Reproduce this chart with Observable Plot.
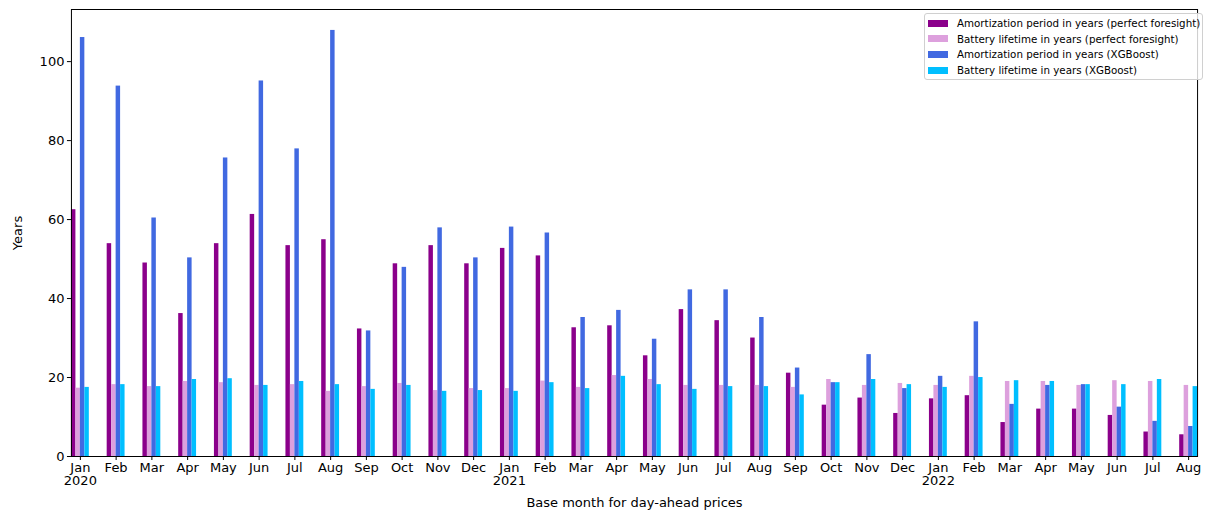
<!DOCTYPE html>
<html>
<head>
<meta charset="utf-8">
<script src="https://cdn.jsdelivr.net/npm/d3@7"></script>
<script src="https://cdn.jsdelivr.net/npm/@observablehq/plot@0.6"></script>
<style>
  html, body { margin: 0; padding: 0; background: #fff; }
  #wrap { position: relative; width: 1209px; height: 513px; font-family: "DejaVu Sans", sans-serif; }
  #legend { position: absolute; left: 924px; top: 13px; width: 279px; height: 67px; border: 1px solid #d0d0d0; border-radius: 3px; background: rgba(255,255,255,0.8); box-sizing: border-box; font-size: 10.3px; color: #000; }
  .item { position: absolute; left: 3px; height: 14px; line-height: 14px; white-space: nowrap; }
  .sw { display: inline-block; width: 20px; height: 7px; vertical-align: middle; margin-right: 9px; margin-top: -2px; }
</style>
</head>
<body>
<div id="wrap"><div id="legend"></div></div>
<script>
const periods = [
  "2020-01","2020-02","2020-03","2020-04","2020-05","2020-06","2020-07","2020-08","2020-09","2020-10","2020-11","2020-12",
  "2021-01","2021-02","2021-03","2021-04","2021-05","2021-06","2021-07","2021-08","2021-09","2021-10","2021-11","2021-12",
  "2022-01","2022-02","2022-03","2022-04","2022-05","2022-06","2022-07","2022-08"
];
const monthNames = ["Jan","Feb","Mar","Apr","May","Jun","Jul","Aug","Sep","Oct","Nov","Dec"];

const seriesNames = [
  "Amortization period in years (perfect foresight)",
  "Battery lifetime in years (perfect foresight)",
  "Amortization period in years (XGBoost)",
  "Battery lifetime in years (XGBoost)"
];
const seriesColors = ["#8B008B", "#DDA0DD", "#4169E1", "#00BFFF"];

const amortPF = [62.5,53.9,49.0,36.2,53.9,61.3,53.4,54.9,32.3,48.8,53.4,48.8,
                 52.7,50.8,32.6,33.1,25.5,37.2,34.4,30.0,21.1,13.0,14.8,10.9,
                 14.6,15.4,8.6,12.0,12.0,10.4,6.2,5.5];
const lifePF = [17.3,18.2,17.7,19.0,18.7,18.0,18.2,16.5,17.7,18.5,16.7,17.2,
                17.2,19.1,17.5,20.5,19.5,18.0,18.0,18.0,17.5,19.5,18.0,18.5,
                18.0,20.3,19.0,19.0,18.0,19.2,19.0,18.0];
const amortXGB = [106.1,93.8,60.4,50.3,75.6,95.1,77.9,107.9,31.8,47.9,57.9,50.3,
                  58.1,56.6,35.2,37.0,29.7,42.2,42.2,35.2,22.4,18.7,25.8,17.2,
                  20.3,34.1,13.2,18.0,18.2,12.5,8.9,7.6];
const lifeXGB = [17.5,18.2,17.7,19.5,19.7,18.0,19.0,18.2,17.0,18.0,16.5,16.7,
                 16.5,18.7,17.2,20.3,18.2,17.0,17.7,17.7,15.6,18.7,19.5,18.2,
                 17.5,20.0,19.2,19.0,18.2,18.2,19.5,17.7];
const yTicks = [0, 20, 40, 60, 80, 100];

const seriesValues = [amortPF, lifePF, amortXGB, lifeXGB];
const rows = [];
periods.forEach((p, i) => {
  seriesNames.forEach((s, k) => rows.push({period: p, series: s, value: seriesValues[k][i]}));
});

function fmtPeriod(p) {
  const [y, m] = p.split("-");
  const name = monthNames[+m - 1];
  return m === "01" ? name + "\n" + y : name;
}

const chart = Plot.plot({
  width: 1209,
  height: 513,
  marginLeft: 62,
  marginRight: 3,
  marginTop: 9,
  marginBottom: 57,
  style: {fontFamily: "DejaVu Sans, sans-serif", fontSize: "13px", color: "#000", background: "#fff"},
  fx: {domain: periods, paddingInner: 0.5, paddingOuter: 0.25, round: false, label: null},
  x: {domain: seriesNames, padding: 0, round: false, axis: null},
  y: {domain: [0, 113.2], label: null},
  color: {domain: seriesNames, range: seriesColors},
  marks: [
    Plot.barY(rows, {fx: "period", x: "series", y: "value", fill: "series", inset: 0}),
    Plot.axisFx({anchor: "bottom", tickSize: 4, tickPadding: 2, tickFormat: fmtPeriod, label: "Base month for day-ahead prices", labelAnchor: "center", labelOffset: 50, labelArrow: false, fontSize: 13}),
    Plot.axisY({ticks: yTicks, tickSize: 4, tickPadding: 3, label: "Years", labelAnchor: "center", labelOffset: 59, labelArrow: false, fontSize: 13}),
    Plot.frame({facet: "super", stroke: "#000", strokeWidth: 1})
  ]
});
const wrap = document.getElementById("wrap");
wrap.insertBefore(chart, wrap.firstChild);

const legend = document.getElementById("legend");
seriesNames.forEach((s, k) => {
  const d = document.createElement("div");
  d.className = "item";
  d.style.top = (2 + k * 15.7) + "px";
  d.innerHTML = `<span class="sw" style="background:${seriesColors[k]}"></span>${s}`;
  legend.appendChild(d);
});
</script>
</body>
</html>
